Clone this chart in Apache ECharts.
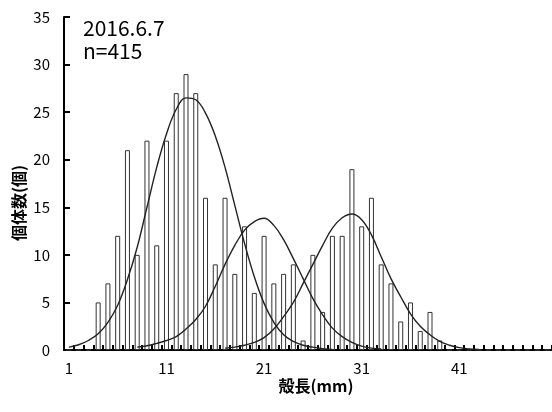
<!DOCTYPE html>
<html>
<head>
    <meta charset="utf-8">
    <script src="https://cdn.jsdelivr.net/npm/echarts@6/dist/echarts.min.js"></script>
</head>
<body style="margin: 0">
<div id="container" style="width: 552px; height: 412px"></div>
<script type="text/javascript">
    // 殻長 1..50 mm
    var lengths = [];
    for (var i = 1; i <= 50; i++) lengths.push(String(i));

    // 個体数 per mm
    var counts = [0, 0, 0, 5, 7, 12, 21, 10, 22, 11,
        22, 27, 29, 27, 16, 9, 16, 8, 13, 6,
        12, 7, 8, 9, 1, 10, 4, 12, 12, 19,
        13, 16, 9, 7, 3, 5, 2, 4, 1, 0,
        0, 0, 0, 0, 0, 0, 0, 0, 0, 0];

    // fitted curves
    var cohort1 = [0.3, 0.55, 1.0, 1.7, 2.9, 4.7, 7.4, 10.8, 15.0, 19.2,
        22.7, 25.3, 26.5, 26.3, 24.9, 22.5, 19.2, 15.2, 11.2, 7.7,
        4.9, 2.9, 1.6, 0.9, 0.5, 0.3, 0.15, 0.05, null, null,
        null, null, null, null, null, null, null, null, null, null,
        null, null, null, null, null, null, null, null, null, null];
    var cohort2 = [null, null, null, null, null, null, null, 0.3, 0.45, 0.7,
        1.0, 1.4, 2.2, 3.2, 4.6, 6.7, 9.0, 11.0, 12.6, 13.5,
        13.85, 13.1, 11.6, 9.6, 7.5, 5.4, 3.7, 2.3, 1.4, 0.8,
        0.4, 0.2, 0.1, null, null, null, null, null, null, null,
        null, null, null, null, null, null, null, null, null, null];
    var cohort3 = [null, null, null, null, null, null, null, null, null, null,
        null, null, null, null, null, null, 0.2, 0.3, 0.5, 0.8,
        1.3, 2.2, 3.5, 5.0, 7.0, 9.0, 11.0, 12.8, 13.9, 14.3,
        13.7, 12.1, 9.8, 7.5, 5.6, 3.8, 2.5, 1.6, 0.9, 0.5,
        0.25, 0.1, 0.05, null, null, null, null, null, null, null];

    var font = '"Noto Sans CJK JP", "Liberation Sans", sans-serif';

    function curve(data) {
        return {
            type: 'line',
            data: data,
            smooth: 0.4,
            showSymbol: false,
            z: 3,
            lineStyle: {color: '#222', width: 1.4},
            silent: true
        };
    }

    var myChart = echarts.init(document.getElementById('container'));
    var option = {
        animation: false,
        grid: {left: 64, right: 0, top: 17, bottom: 62},
        textStyle: {fontFamily: font},
        xAxis: {
            type: 'category',
            data: lengths,
            axisLine: {lineStyle: {color: '#000', width: 2}},
            axisTick: {show: true, inside: true, length: 5, interval: 0, lineStyle: {color: '#000', width: 2}},
            axisLabel: {interval: 9, color: '#000', fontSize: 15, margin: 11, fontFamily: font}
        },
        yAxis: {
            type: 'value',
            min: 0,
            max: 35,
            interval: 5,
            splitLine: {show: false},
            axisLine: {show: true, lineStyle: {color: '#000', width: 2}},
            axisTick: {show: true, inside: true, length: 6, lineStyle: {color: '#000', width: 2}},
            axisLabel: {color: '#000', fontSize: 15, margin: 14, fontFamily: font}
        },
        graphic: [
            {type: 'text', x: 83, y: 28, style: {text: '2016.6.7', font: '21px ' + font, fill: '#000', verticalAlign: 'middle'}},
            {type: 'text', x: 83, y: 51, style: {text: 'n=415', font: '21px ' + font, fill: '#000', verticalAlign: 'middle'}},
            {type: 'text', x: 19, y: 203, rotation: Math.PI / 2,
                style: {text: '個体数(個)', font: 'bold 16px ' + font, fill: '#000', align: 'center', verticalAlign: 'middle'}},
            {type: 'text', x: 316, y: 386,
                style: {text: '殻長(mm)', font: 'bold 16px ' + font, fill: '#000', align: 'center', verticalAlign: 'middle'}}
        ],
        series: [
            {
                type: 'bar',
                data: counts,
                barWidth: 5,
                itemStyle: {color: '#fff', borderColor: '#333', borderWidth: 1}
            },
            curve(cohort1),
            curve(cohort2),
            curve(cohort3)
        ]
    };
    myChart.setOption(option);
</script>
</body>
</html>
